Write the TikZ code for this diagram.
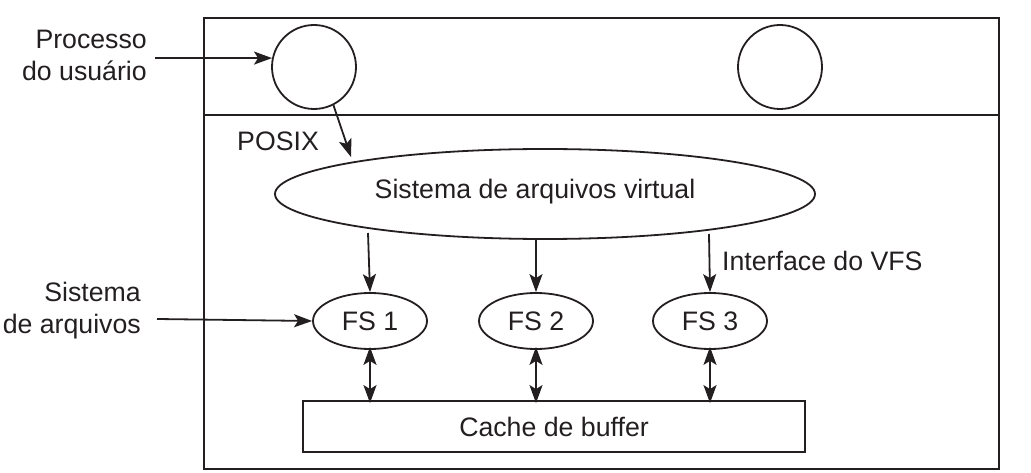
\documentclass[tikz,border=0pt]{standalone}
\usepackage{fontspec}
\setmainfont{Liberation Sans}
\usetikzlibrary{arrows.meta,shapes.geometric}
\definecolor{ink}{HTML}{231F20}
\begin{document}
\begin{tikzpicture}[x=1pt,y=-1pt,
  every node/.style={text=ink,font=\fontsize{26.7}{32}\selectfont},
  ln/.style={draw=ink,line width=1.8pt},
  arr/.style={ln,-{Stealth[length=18pt,width=13pt,inset=4pt]}},
  darr/.style={ln,{Stealth[length=18pt,width=13pt,inset=4pt]}-{Stealth[length=18pt,width=13pt,inset=4pt]}},
  proc/.style={ln,circle,minimum size=84pt,inner sep=0pt},
  fsell/.style={ln,ellipse,minimum width=114pt,minimum height=56pt,inner sep=0pt}]
\useasboundingbox (0,0) rectangle (1031,473);
% outer box and divider
\draw[ln] (204,18) rectangle (999,469);
\draw[ln] (204,115) -- (999,115);
% user processes
\node[proc] (u1) at (314,67) {};
\node[proc] (u2) at (780,67) {};
% VFS
\node[ln,ellipse,minimum width=540pt,minimum height=90pt,inner sep=0pt] (vfs) at (545,194) {};
\node (vfst) at (535,192) {Sistema de arquivos virtual};
% file systems
\node[fsell] (fs1) at (370,321) {FS 1};
\node[fsell] (fs2) at (536,321) {FS 2};
\node[fsell] (fs3) at (710,321) {FS 3};
% cache
\node[ln,minimum width=502pt,minimum height=51pt,inner sep=0pt] (cache) at (554,426.5) {Cache de buffer};
% labels
\node[align=right,anchor=east,inner sep=0pt] (plab) at (147,55) {Processo\\do usuário};
\node[align=right,anchor=east,inner sep=0pt] (slab) at (141,311) {Sistema\\de arquivos};
\node[anchor=west,inner sep=0pt] (posix) at (237,141) {POSIX};
\node[anchor=west,inner sep=0pt] (ivfs) at (722,261) {Interface do VFS};
\coordinate (pin) at (155,58);
\coordinate (sin) at (157,319);
\coordinate (vp) at (351,157);
\coordinate (v1) at (368,233);
\coordinate (v2) at (536,239);
\coordinate (v3) at (709,234);
% connectors
\draw[arr] (pin) -- (u1.168);
\draw[arr] (sin) -- (fs1.west);
\draw[arr] (u1.-63) -- (vp);
\draw[arr] (v1) -- (fs1.north);
\draw[arr] (v2) -- (fs2.north);
\draw[arr] (v3) -- (fs3.north);
\draw[darr] ([yshift=3pt]fs1.south) -- ([yshift=-3pt]fs1.south|-cache.north);
\draw[darr] ([yshift=3pt]fs2.south) -- ([yshift=-3pt]fs2.south|-cache.north);
\draw[darr] ([yshift=3pt]fs3.south) -- ([yshift=-3pt]fs3.south|-cache.north);
\end{tikzpicture}
\end{document}
